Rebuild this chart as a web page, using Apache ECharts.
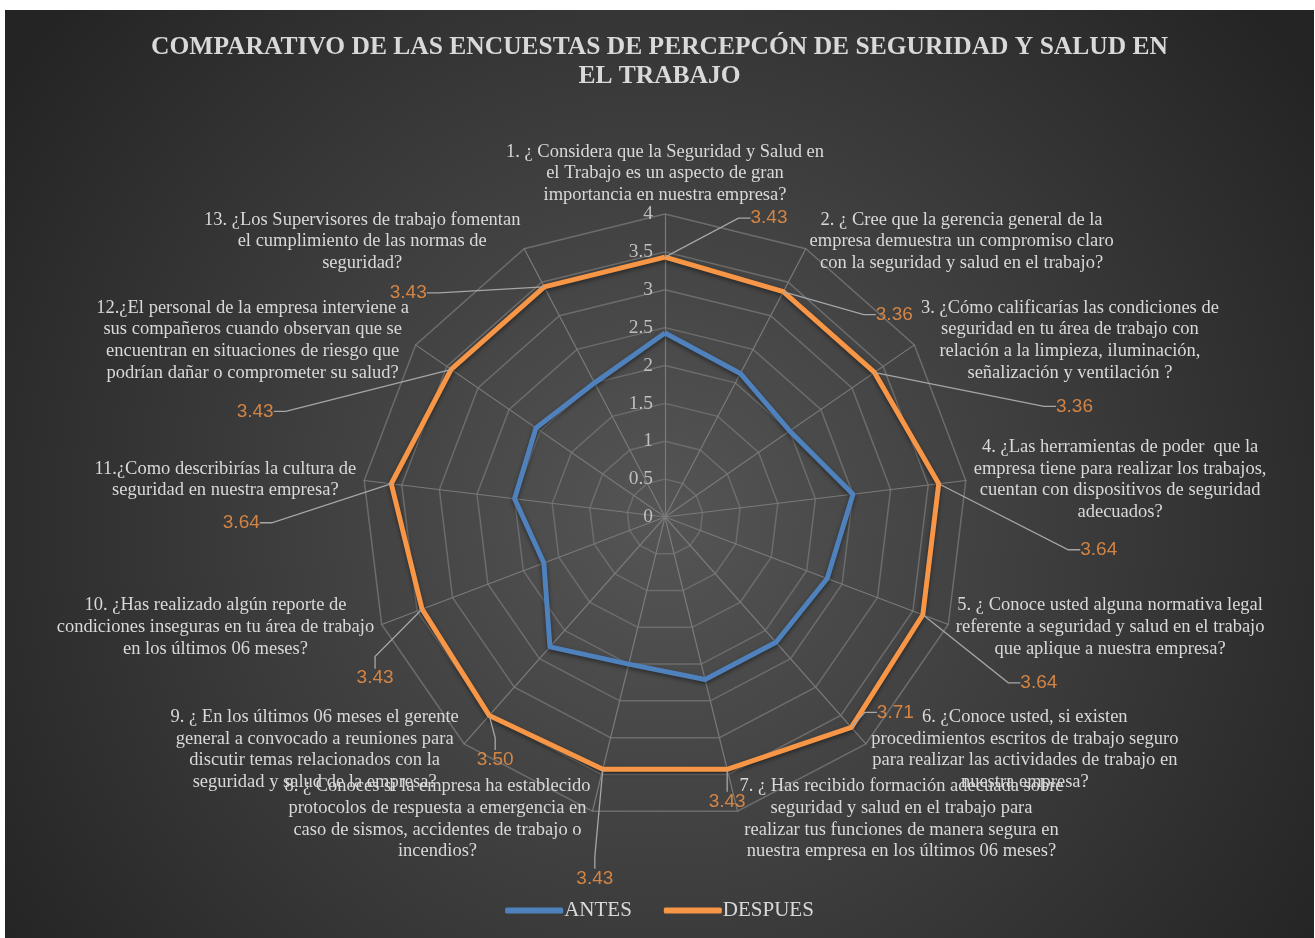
<!DOCTYPE html>
<html>
<head>
<meta charset="utf-8">
<script src="https://cdn.jsdelivr.net/npm/echarts@6/dist/echarts.min.js"></script>
<style>
html, body { margin: 0; background: #fff; }
#main { position: absolute; left: 5px; top: 10px; width: 1309px; height: 928px; }
</style>
</head>
<body>
<div id="main"></div>
<script>
var preguntas = [
  "1. ¿ Considera que la Seguridad y Salud en\nel Trabajo es un aspecto de gran\nimportancia en nuestra empresa?",
  "2. ¿ Cree que la gerencia general de la\nempresa demuestra un compromiso claro\ncon la seguridad y salud en el trabajo?",
  "3. ¿Cómo calificarías las condiciones de\nseguridad en tu área de trabajo con\nrelación a la limpieza, iluminación,\nseñalización y ventilación ?",
  "4. ¿Las herramientas de poder  que la\nempresa tiene para realizar los trabajos,\ncuentan con dispositivos de seguridad\nadecuados?",
  "5. ¿ Conoce usted alguna normativa legal\nreferente a seguridad y salud en el trabajo\nque aplique a nuestra empresa?",
  "6. ¿Conoce usted, si existen\nprocedimientos escritos de trabajo seguro\npara realizar las actividades de trabajo en\nnuestra empresa?",
  "7. ¿ Has recibido formación adecuada sobre\nseguridad y salud en el trabajo para\nrealizar tus funciones de manera segura en\nnuestra empresa en los últimos 06 meses?",
  "8. ¿ Conoces si la empresa ha establecido\nprotocolos de respuesta a emergencia en\ncaso de sismos, accidentes de trabajo o\nincendios?",
  "9. ¿ En los últimos 06 meses el gerente\ngeneral a convocado a reuniones para\ndiscutir temas relacionados con la\nseguridad y salud de la empresa?",
  "10. ¿Has realizado algún reporte de\ncondiciones inseguras en tu área de trabajo\nen los últimos 06 meses?",
  "11.¿Como describirías la cultura de\nseguridad en nuestra empresa?",
  "12.¿El personal de la empresa interviene a\nsus compañeros cuando observan que se\nencuentran en situaciones de riesgo que\npodrían dañar o comprometer su salud?",
  "13. ¿Los Supervisores de trabajo fomentan\nel cumplimiento de las normas de\nseguridad?"
];
var antes   = [2.43, 2.14, 2.00, 2.50, 2.29, 2.21, 2.21, 2.00, 2.29, 1.71, 2.00, 2.07, 2.00];
var despues = [3.43, 3.36, 3.36, 3.64, 3.64, 3.71, 3.43, 3.43, 3.50, 3.43, 3.64, 3.43, 3.43];
var escalaMax = 4;
var escalaPaso = 0.5;

// desplazamiento de las etiquetas de DESPUES respecto al vértice (px)
var desplaz = [[104, -39], [111, 23], [200, 34], [160, 66], [116, 68], [44, -15], [0, 32],
  [-8, 109], [6, 44], [-47, 69], [-150, 39], [-196, 42], [-136, 6]];

var centro = [660, 507];
var radio = 303;
var serif = "'Liberation Serif', 'Times New Roman', serif";
var colAntes = '#4F81BD';
var colDespues = '#F79646';

// el radar de echarts gira en sentido antihorario: se invierte el orden
var orden = [0];
for (var k = preguntas.length - 1; k > 0; k--) orden.push(k);

var myChart = echarts.init(document.getElementById('main'));

var option = {
  backgroundColor: {
    type: 'radial', x: 0.5, y: 0.55, r: 0.85,
    colorStops: [{ offset: 0, color: '#555555' }, { offset: 1, color: '#242424' }]
  },
  title: {
    text: 'COMPARATIVO DE LAS ENCUESTAS DE PERCEPCÓN DE SEGURIDAD Y SALUD EN\nEL TRABAJO',
    left: 'center',
    top: 18,
    textStyle: { color: '#d9d9d9', fontSize: 25.5, fontWeight: 'bold', fontFamily: serif, lineHeight: 29 }
  },
  legend: {
    data: ['ANTES', 'DESPUES'],
    bottom: 12,
    left: 'center',
    itemWidth: 58,
    itemHeight: 6,
    itemGap: 32,
    icon: 'roundRect',
    textStyle: { color: '#d9d9d9', fontSize: 21, fontFamily: serif, padding: [0, 0, 0, -4] }
  },
  radar: {
    center: centro,
    radius: radio,
    startAngle: 90,
    splitNumber: escalaMax / escalaPaso,
    shape: 'polygon',
    nameGap: 8,
    indicator: orden.map(function (i) { return { name: preguntas[i], min: 0, max: escalaMax }; }),
    axisName: {
      color: '#d9d9d9',
      fontSize: 18.5,
      fontFamily: serif,
      lineHeight: 21.7,
      formatter: function (n) {
        return n.split('\n').map(function (l) { return '{c|' + l + '}'; }).join('\n');
      },
      rich: { c: { align: 'center', color: '#d9d9d9', fontSize: 18.5, fontFamily: serif, lineHeight: 21.7 } }
    },
    axisLine: { lineStyle: { color: '#7a7a7a', width: 1.2 } },
    splitLine: { lineStyle: { color: '#6c6c6c', width: 1.5 } },
    splitArea: { show: false },
    axisTick: { show: false },
    axisLabel: { show: false }
  },
  polar: { center: centro, radius: radio },
  angleAxis: {
    type: 'value', min: 0, max: preguntas.length, startAngle: 90, clockwise: true,
    show: false
  },
  radiusAxis: {
    type: 'value', min: 0, max: escalaMax, interval: escalaPaso,
    axisLine: { show: false }, axisTick: { show: false }, splitLine: { show: false },
    axisLabel: { color: '#bfbfbf', fontSize: 19.5, fontFamily: serif, margin: 12 },
    z: 5
  },
  series: [
    {
      name: 'encuesta',
      type: 'radar',
      symbol: 'none',
      z: 3,
      data: [
        {
          name: 'ANTES',
          value: orden.map(function (i) { return antes[i]; }),
          itemStyle: { color: colAntes },
          lineStyle: { color: colAntes, width: 5, shadowBlur: 4, shadowOffsetY: 2, shadowColor: 'rgba(0,0,0,0.45)' }
        },
        {
          name: 'DESPUES',
          value: orden.map(function (i) { return despues[i]; }),
          itemStyle: { color: colDespues },
          lineStyle: { color: colDespues, width: 5, shadowBlur: 4, shadowOffsetY: 2, shadowColor: 'rgba(0,0,0,0.45)' }
        }
      ]
    },
    {
      name: 'etiquetas',
      type: 'scatter',
      coordinateSystem: 'polar',
      symbolSize: 1,
      itemStyle: { color: 'rgba(0,0,0,0)' },
      silent: true,
      z: 4,
      data: despues.map(function (v, i) { return [v, i]; }),
      label: {
        show: true,
        position: 'inside',
        color: colDespues,
        fontSize: 19,
        padding: [2, 5],
        fontFamily: "'Liberation Sans', Arial, sans-serif",
        formatter: function (p) { return p.value[0].toFixed(2); }
      },
      labelLayout: function (p) {
        var o = desplaz[p.dataIndex];
        return { dx: o[0], dy: o[1] };
      },
      labelLine: { show: true, length2: 12, lineStyle: { color: '#a6a6a6', width: 1.3 } }
    }
  ]
};

myChart.setOption(option);
</script>
</body>
</html>
